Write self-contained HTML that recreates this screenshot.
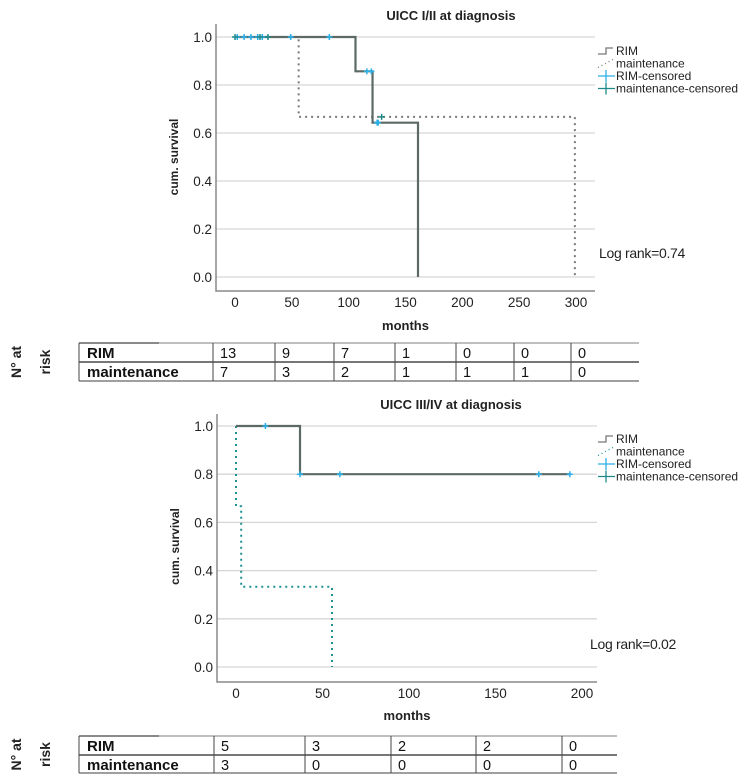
<!DOCTYPE html>
<html><head><meta charset="utf-8"><style>
body{margin:0;background:#fff;}
svg{display:block;font-family:"Liberation Sans",Arial,sans-serif;}
</style></head><body>
<svg id="svg" width="740" height="782" viewBox="0 0 740 782"></svg>
<script>
// ---- Chart 1 data ----
const c1XTicks=[0,50,100,150,200,250,300];
const c1YTicks=[0.0,0.2,0.4,0.6,0.8,1.0];
const c1RimTimes=[0,106,121,161];
const c1RimSurv=[1.0,0.857,0.643,0.0];
const c1RimEnd=161;
const c1MainTimes=[0,56,299];
const c1MainSurv=[1.0,0.667,0.0];
const c1MainEnd=299;
const c1RimCensT=[2,8,14,20,24,49,83,116,120,125,126];
const c1RimCensS=[1,1,1,1,1,1,1,0.857,0.857,0.643,0.643];
const c1MainCensT=[0,22,29,129];
const c1MainCensS=[1,1,1,0.667];
const c1RiskRim=[13,9,7,1,0,0,0];
const c1RiskMain=[7,3,2,1,1,1,0];
// ---- Chart 2 data ----
const c2XTicks=[0,50,100,150,200];
const c2YTicks=[0.0,0.2,0.4,0.6,0.8,1.0];
const c2RimTimes=[0,37];
const c2RimSurv=[1.0,0.8];
const c2RimEnd=193;
const c2MainTimes=[0,0,3,55.5];
const c2MainSurv=[1.0,0.667,0.333,0.0];
const c2MainEnd=55.5;
const c2RimCensT=[17,37,60,175,193];
const c2RimCensS=[1,0.8,0.8,0.8,0.8];
const c2RiskRim=[5,3,2,2,0];
const c2RiskMain=[3,0,0,0,0];

const NS="http://www.w3.org/2000/svg";
const svg=document.getElementById('svg');
function mk(tag,attrs,parent,text){const e=document.createElementNS(NS,tag);for(const k in attrs)e.setAttribute(k,attrs[k]);if(text!==undefined)e.textContent=text;(parent||svg).appendChild(e);return e;}

function chart(cfg){
  const g=mk('g',{});
  
  
  const xs=v=>cfg.x0+(v-cfg.xmin)*(cfg.x1-cfg.x0)/(cfg.xmax-cfg.xmin);
  const ys=v=>cfg.y0+(v)*(cfg.y1-cfg.y0);
  const t=mk('text',{x:cfg.titleX,y:cfg.titleY,'text-anchor':'middle','font-size':13,'font-weight':'bold',fill:'#222'},g,cfg.title);
  
  
  cfg.yTicks.forEach(v=>{
    const l=mk('line',{x1:cfg.axL,x2:cfg.gridR,y1:ys(v),y2:ys(v),stroke:'#d6d6d6','stroke-width':1.3},g);
    
    
    const tx=mk('text',{x:cfg.axL-4,y:ys(v)+5,'text-anchor':'end','font-size':13.5,fill:'#222'},g,v.toFixed(1));
    
    
  });
  const ax=mk('path',{d:`M${cfg.axL},${cfg.axTop}V${cfg.axB}H${cfg.gridR}`,fill:'none',stroke:'#888','stroke-width':1.5},g);
  
  
  cfg.xTicks.forEach(v=>{
    const tx=mk('text',{x:xs(v),y:cfg.tickY,'text-anchor':'middle','font-size':13.5,fill:'#222'},g,String(v));
    
    
  });
  const xt=mk('text',{x:(cfg.axL+cfg.gridR)/2,y:cfg.monthsY,'text-anchor':'middle','font-size':13,'font-weight':'bold',fill:'#222'},g,'months');
  
  
  const yt=mk('text',{x:0,y:0,transform:`translate(${cfg.axL-38},${(cfg.y0+cfg.y1)/2}) rotate(-90)`,'text-anchor':'middle','font-size':12,'font-weight':'bold',fill:'#222'},g,'cum. survival');
  
  
  function step(times,surv,end){
    let d=`M${xs(times[0])},${ys(surv[0])}`;
    for(let i=1;i<times.length;i++){d+=`H${xs(times[i])}V${ys(surv[i])}`;}
    if(surv[surv.length-1]>0)d+=`H${xs(end)}`;
    return d;
  }
  const mp=mk('path',{d:step(cfg.mainT,cfg.mainS,cfg.mainEnd),fill:'none',stroke:cfg.mainColor,'stroke-width':2,'stroke-dasharray':'2 4'},g);
  
  
  const rp=mk('path',{d:step(cfg.rimT,cfg.rimS,cfg.rimEnd),fill:'none',stroke:'#5b6a66','stroke-width':2.2},g);
  
  
  function cens(T,S,col,nm){
    T.forEach((v,i)=>{
      const p=mk('path',{d:`M${xs(v)-3},${ys(S[i])}h6M${xs(v)},${ys(S[i])-3}v6`,stroke:col,'stroke-width':1.5},g);
      
      
    });
  }
  cens(cfg.rimCT,cfg.rimCS,'#29b0e8','rim-censored-mark');
  if(cfg.mainCT)cens(cfg.mainCT,cfg.mainCS,'#1f8a8a','maintenance-censored-mark');
  const lx=cfg.legX, ly=cfg.legY;
  const lg=mk('g',{},g);
  
  
  const items=[['RIM','rim'],['maintenance','main'],['RIM-censored','rc'],['maintenance-censored','mc']];
  items.forEach((it,i)=>{
    const y=ly+i*12.5;
    if(it[1]==='rim')mk('path',{d:`M${lx},${y+3}h8v-6h7`,fill:'none',stroke:'#777','stroke-width':1.3},lg);
    if(it[1]==='main')mk('path',{d:`M${lx},${y+4}L${lx+15},${y-4}`,fill:'none',stroke:cfg.mainColor,'stroke-width':1.3,'stroke-dasharray':'1 3'},lg);
    if(it[1]==='rc')mk('path',{d:`M${lx},${y}h17M${lx+8},${y-6}v12`,stroke:'#29b0e8','stroke-width':1.3},lg);
    if(it[1]==='mc')mk('path',{d:`M${lx},${y}h17M${lx+8},${y-6}v12`,stroke:'#1f8a8a','stroke-width':1.3},lg);
    const tx=mk('text',{x:lx+18,y:y+4,'font-size':12,fill:'#222'},lg,it[0]);
    
    
  });
  const lr=mk('text',{x:cfg.lrX,y:cfg.lrY,'font-size':14,fill:'#222','letter-spacing':'-0.3'},g,cfg.logrank);
  
  
}

function table(cfg){
  const g=mk('g',{});
  
  
  const {left,cols,right,top,mid,bot}=cfg;
  mk('line',{x1:left,x2:right,y1:top,y2:top,stroke:'#999','stroke-width':1.3},g);
  mk('line',{x1:left,x2:left+80,y1:top,y2:top,stroke:'#555','stroke-width':1.3},g);
  mk('line',{x1:left,x2:right,y1:mid,y2:mid,stroke:'#777','stroke-width':2},g);
  mk('line',{x1:left,x2:right,y1:bot,y2:bot,stroke:'#666','stroke-width':1.3},g);
  [left].concat(cols).forEach(x=>mk('line',{x1:x,x2:x,y1:top,y2:bot,stroke:'#444','stroke-width':1},g));
  const r1=mk('text',{x:left+8,y:top+15,'font-size':15,'font-weight':'bold',fill:'#111'},g,'RIM');
  
  
  const r2=mk('text',{x:left+8,y:mid+15,'font-size':15,'font-weight':'bold',fill:'#111'},g,'maintenance');
  
  
  cfg.rim.forEach((v,i)=>{const t=mk('text',{x:cols[i]+7,y:top+15,'font-size':14.5,fill:'#111'},g,String(v));
    
    });
  cfg.main.forEach((v,i)=>{const t=mk('text',{x:cols[i]+7,y:mid+15,'font-size':14.5,fill:'#111'},g,String(v));
    
    });
  const cy=(top+bot)/2;
  const a=mk('text',{x:0,y:0,transform:`translate(21,${cy}) rotate(-90)`,'text-anchor':'middle','font-size':14,'font-weight':'bold',fill:'#222'},g,'N° at');
  
  
  const b=mk('text',{x:0,y:0,transform:`translate(50,${cy}) rotate(-90)`,'text-anchor':'middle','font-size':14,'font-weight':'bold',fill:'#222'},g,'risk');
  
  
}

chart({name:'chart-uicc-1-2',title:'UICC I/II at diagnosis',titleX:451,titleY:20,
  xmin:0,xmax:300,x0:235,x1:576,y0:277,y1:37,axL:216,axB:291,axTop:24,gridR:595,tickY:307,monthsY:330,
  xTicks:c1XTicks,yTicks:c1YTicks,rimT:c1RimTimes,rimS:c1RimSurv,rimEnd:c1RimEnd,
  mainT:c1MainTimes,mainS:c1MainSurv,mainEnd:c1MainEnd,mainColor:'#7a7a7a',
  rimCT:c1RimCensT,rimCS:c1RimCensS,mainCT:c1MainCensT,mainCS:c1MainCensS,
  legX:598,legY:51,lrX:599,lrY:258,logrank:'Log rank=0.74'});
table({name:'risk-table-1',left:79,cols:[213,275,334,395,456,514,571],right:639,top:343,mid:362,bot:381,rim:c1RiskRim,main:c1RiskMain});
chart({name:'chart-uicc-3-4',title:'UICC III/IV at diagnosis',titleX:451,titleY:409,
  xmin:0,xmax:200,x0:236,x1:582,y0:667,y1:426,axL:217,axB:682,axTop:414,gridR:597,tickY:698,monthsY:720,
  xTicks:c2XTicks,yTicks:c2YTicks,rimT:c2RimTimes,rimS:c2RimSurv,rimEnd:c2RimEnd,
  mainT:c2MainTimes,mainS:c2MainSurv,mainEnd:c2MainEnd,mainColor:'#1f8f8f',
  rimCT:c2RimCensT,rimCS:c2RimCensS,mainCT:null,mainCS:null,
  legX:598,legY:439,lrX:590,lrY:649,logrank:'Log rank=0.02'});
table({name:'risk-table-2',left:79,cols:[214,305,391,476,562],right:617,top:736,mid:755,bot:773,rim:c2RiskRim,main:c2RiskMain});
</script>
</body></html>
